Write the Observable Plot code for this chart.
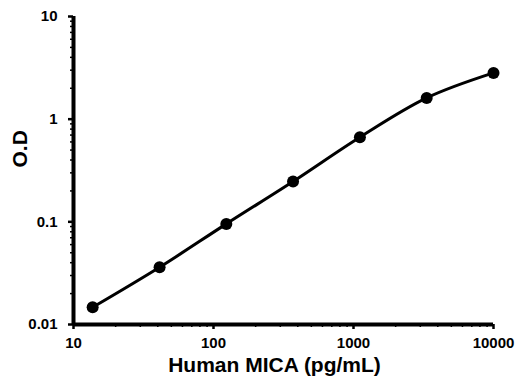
<!DOCTYPE html>
<html>
<head>
<meta charset="utf-8">
<script src="https://cdn.jsdelivr.net/npm/d3@7"></script>
<script src="https://cdn.jsdelivr.net/npm/@observablehq/plot@0.6"></script>
<style>
  html, body { margin: 0; padding: 0; background: #fff; }
  svg { display: block; }
</style>
</head>
<body>
<div id="chart"></div>
<script>
const concentration = [13.7, 41.2, 123.5, 370, 1111, 3333, 10000];
const od = [0.0147, 0.0361, 0.0955, 0.247, 0.667, 1.61, 2.82];
const xMajor = [10, 100, 1000, 10000];
const yMajor = [0.01, 0.1, 1, 10];
const xLabels = ["10", "100", "1000", "10000"];
const yLabels = ["0.01", "0.1", "1", "10"];
const xTitle = "Human MICA (pg/mL)";
const yTitle = "O.D";

const data = concentration.map((c, i) => ({c, od: od[i]}));
const minorOf = (majors) => {
  const out = [];
  for (let i = 0; i < majors.length - 1; i++)
    for (let k = 2; k <= 9; k++) out.push(majors[i] * k);
  return out;
};
const xMinor = minorOf(xMajor);
const yMinor = minorOf(yMajor);
const xLab = (d) => xLabels[xMajor.indexOf(d)];
const yLab = (d) => yLabels[yMajor.indexOf(d)];

const font = "'Liberation Sans', Arial, sans-serif";

const chart = Plot.plot({
  width: 532,
  height: 384,
  marginLeft: 73,
  marginRight: 39,
  marginTop: 16,
  marginBottom: 60,
  style: {fontFamily: font, fontWeight: "bold", fontSize: "14px", color: "#000", background: "#fff"},
  x: {type: "log", domain: [10, 10000]},
  y: {type: "log", domain: [0.01, 10]},
  marks: [
    Plot.axisX(xMinor, {tickSize: 3, text: null, strokeWidth: 1.5, label: null}),
    Plot.axisY(yMinor, {tickSize: 3, text: null, strokeWidth: 1.5, label: null}),
    Plot.axisX(xMajor, {tickSize: 5, strokeWidth: 2.5, tickPadding: 8, tickFormat: xLab, fontSize: 15, fontWeight: "bold", label: null}),
    Plot.axisY(yMajor, {tickSize: 5, strokeWidth: 2.5, tickPadding: 11, tickFormat: yLab, fontSize: 15, fontWeight: "bold", label: null}),
    Plot.ruleX([10], {strokeWidth: 4, stroke: "#000", y1: 0.01, y2: 10}),
    Plot.ruleY([0.01], {strokeWidth: 4, stroke: "#000", x1: 10, x2: 10000}),
    Plot.line(data, {x: "c", y: "od", stroke: "#000", strokeWidth: 3, curve: "catmull-rom"}),
    Plot.dot(data, {x: "c", y: "od", r: 6, fill: "#000", stroke: "none"}),
    Plot.text([xTitle], {frameAnchor: "bottom", dy: 47, fontSize: 21, fontWeight: "bold", dx: -9}),
    Plot.text([yTitle], {frameAnchor: "left", dx: -53, dy: -3, rotate: -90, fontSize: 21, fontWeight: "bold"})
  ]
});
document.getElementById("chart").appendChild(chart);
</script>
</body>
</html>
